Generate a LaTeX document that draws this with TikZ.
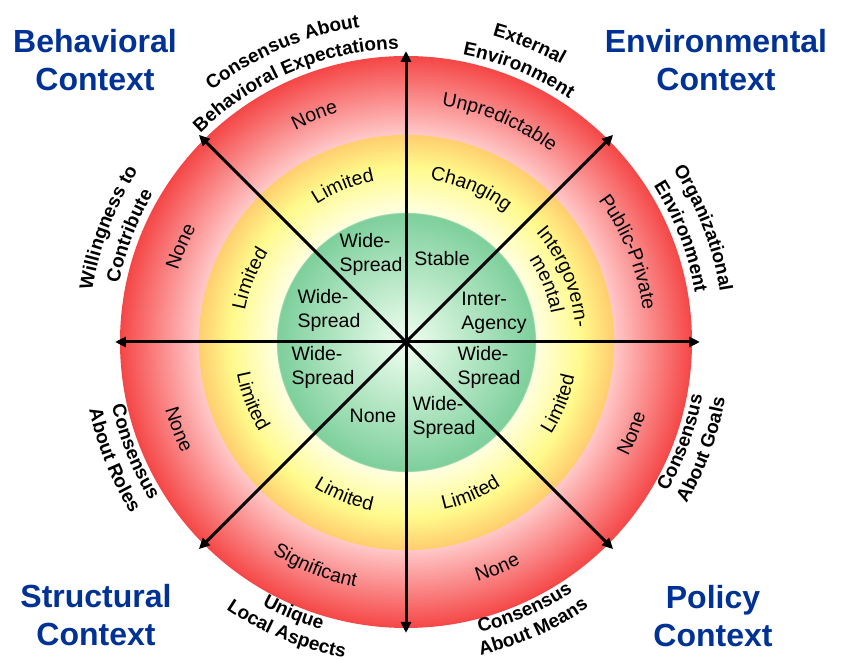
\documentclass[tikz,border=0pt]{standalone}
\usepackage{fontspec}
\setmainfont{Liberation Sans}
\usepackage{xcolor}
\usetikzlibrary{arrows.meta,decorations.text}

\definecolor{ctxblue}{RGB}{0,50,150}
\definecolor{grcore}{RGB}{240,255,240}
\definecolor{gredge}{RGB}{125,207,155}
\definecolor{yeinner}{RGB}{255,255,225}
\definecolor{yemid}{RGB}{255,250,140}
\definecolor{yeouter}{RGB}{255,205,110}
\definecolor{reinner}{RGB}{255,200,200}
\definecolor{reouter}{RGB}{245,70,70}

% green core, yellow ring, red ring
\pgfdeclareradialshading{rings}{\pgfpointorigin}{%
  color(0bp)=(grcore);
  color(11.28bp)=(gredge);
  color(11.32bp)=(yeinner);
  color(15.3bp)=(yemid);
  color(18.14bp)=(yeouter);
  color(18.18bp)=(reinner);
  color(25bp)=(reouter);
  color(50bp)=(reouter)}

\newcommand{\ringfont}{\fontsize{19.5}{24}\selectfont}
\newcommand{\catfont}{\fontsize{19}{23}\selectfont\bfseries}

% text bent along an arc: upper half reads clockwise, lower half anticlockwise
\newcommand{\arctop}[3]{%
  \path[decorate, decoration={text along path, text align=center, text={#3}}]
    (#1+60:#2) arc[start angle=#1+60, end angle=#1-60, radius=#2];}
\newcommand{\arcbot}[3]{%
  \path[decorate, decoration={text along path, text align=center, text={#3}}]
    (#1-60:#2) arc[start angle=#1-60, end angle=#1+60, radius=#2];}

\begin{document}
\begin{tikzpicture}[x=1pt, y=1pt]
	\useasboundingbox (-406,-318) rectangle (437,342);

	\shade[shading=rings] (0,0) circle (286);

	\coordinate (O) at (0,0);
	\coordinate (E) at (0:294);
	\coordinate (NE) at (45:293);
	\coordinate (N) at (90:291);
	\coordinate (NW) at (135:293);
	\coordinate (W) at (180:291);
	\coordinate (SW) at (225:293);
	\coordinate (S) at (270:291);
	\coordinate (SE) at (315:293);

	\begin{scope}[spoke/.style={-{Triangle[length=11pt, width=10pt]}, line width=3pt}]
		\draw[spoke] (O) -- (E);
		\draw[spoke] (O) -- (NE);
		\draw[spoke] (O) -- (N);
		\draw[spoke] (O) -- (NW);
		\draw[spoke] (O) -- (W);
		\draw[spoke] (O) -- (SW);
		\draw[spoke] (O) -- (S);
		\draw[spoke] (O) -- (SE);
	\end{scope}

	\begin{scope}[
		cell/.style={align=left, font=\ringfont, inner sep=0pt},
		title/.style={align=center, text=ctxblue, font=\fontsize{32}{38}\selectfont\bfseries, inner sep=0pt}]
		\node[cell] (c1) at (-35,88) {Wide-\\Spread};
		\node[cell] (c2) at (36,83) {Stable};
		\node[cell] (c3) at (88,29) {Inter-\\Agency};
		\node[cell] (c4) at (-77,32) {Wide-\\Spread};
		\node[cell] (c5) at (-83,-25) {Wide-\\Spread};
		\node[cell] (c6) at (-33,-74) {None};
		\node[cell] (c7) at (38,-75) {Wide-\\Spread};
		\node[cell] (c8) at (83,-25) {Wide-\\Spread};

		\node[title] (behav) at (-311,282) {Behavioral\\Context};
		\node[title] (envir) at (310,282) {Environmental\\Context};
		\node[title] (struct) at (-310,-273) {Structural\\Context};
		\node[title] (policy) at (307,-274) {Policy\\Context};
	\end{scope}

	% yellow ring
	\arctop{112}{164}{|\ringfont|Limited}
	\arctop{67}{164}{|\ringfont|Changing}
	\arctop{22.5}{170}{|\ringfont|Intergovern-}
	\arctop{22.5}{148}{|\ringfont|mental}
	\arctop{158}{164}{|\ringfont|Limited}
	\arcbot{-22}{172}{|\ringfont|Limited}
	\arcbot{-67}{172}{|\ringfont|Limited}
	\arcbot{-112}{172}{|\ringfont|Limited}
	\arcbot{-159}{172}{|\ringfont|Limited}

	% red ring
	\arctop{112}{239}{|\ringfont|None}
	\arctop{67}{239}{|\ringfont|Unpredictable}
	\arctop{22}{239}{|\ringfont|Public-Private}
	\arctop{157}{239}{|\ringfont|None}
	\arcbot{-22}{250}{|\ringfont|None}
	\arcbot{-68}{250}{|\ringfont|None}
	\arcbot{-112}{250}{|\ringfont|Significant}
	\arcbot{-159}{250}{|\ringfont|None}

	% outer captions
	\arctop{113}{318}{|\catfont|Consensus About}
	\arctop{113}{293}{|\catfont|Behavioral Expectations}
	\arctop{67.5}{318}{|\catfont|External}
	\arctop{67.5}{293}{|\catfont|Environment}
	\arctop{21}{318}{|\catfont|Organizational}
	\arctop{21}{293}{|\catfont|Environment}
	\arctop{159}{318}{|\catfont|Willingness to}
	\arctop{159}{293}{|\catfont|Contribute}
	\arcbot{-20}{301}{|\catfont|Consensus}
	\arcbot{-20}{324}{|\catfont|About Goals}
	\arcbot{-66}{300}{|\catfont|Consensus}
	\arcbot{-66}{322}{|\catfont|About Means}
	\arcbot{-112.5}{300}{|\catfont|Unique}
	\arcbot{-112.5}{322}{|\catfont|Local Aspects}
	\arcbot{-158}{301}{|\catfont|Consensus}
	\arcbot{-158}{324}{|\catfont|About Roles}
\end{tikzpicture}
\end{document}
